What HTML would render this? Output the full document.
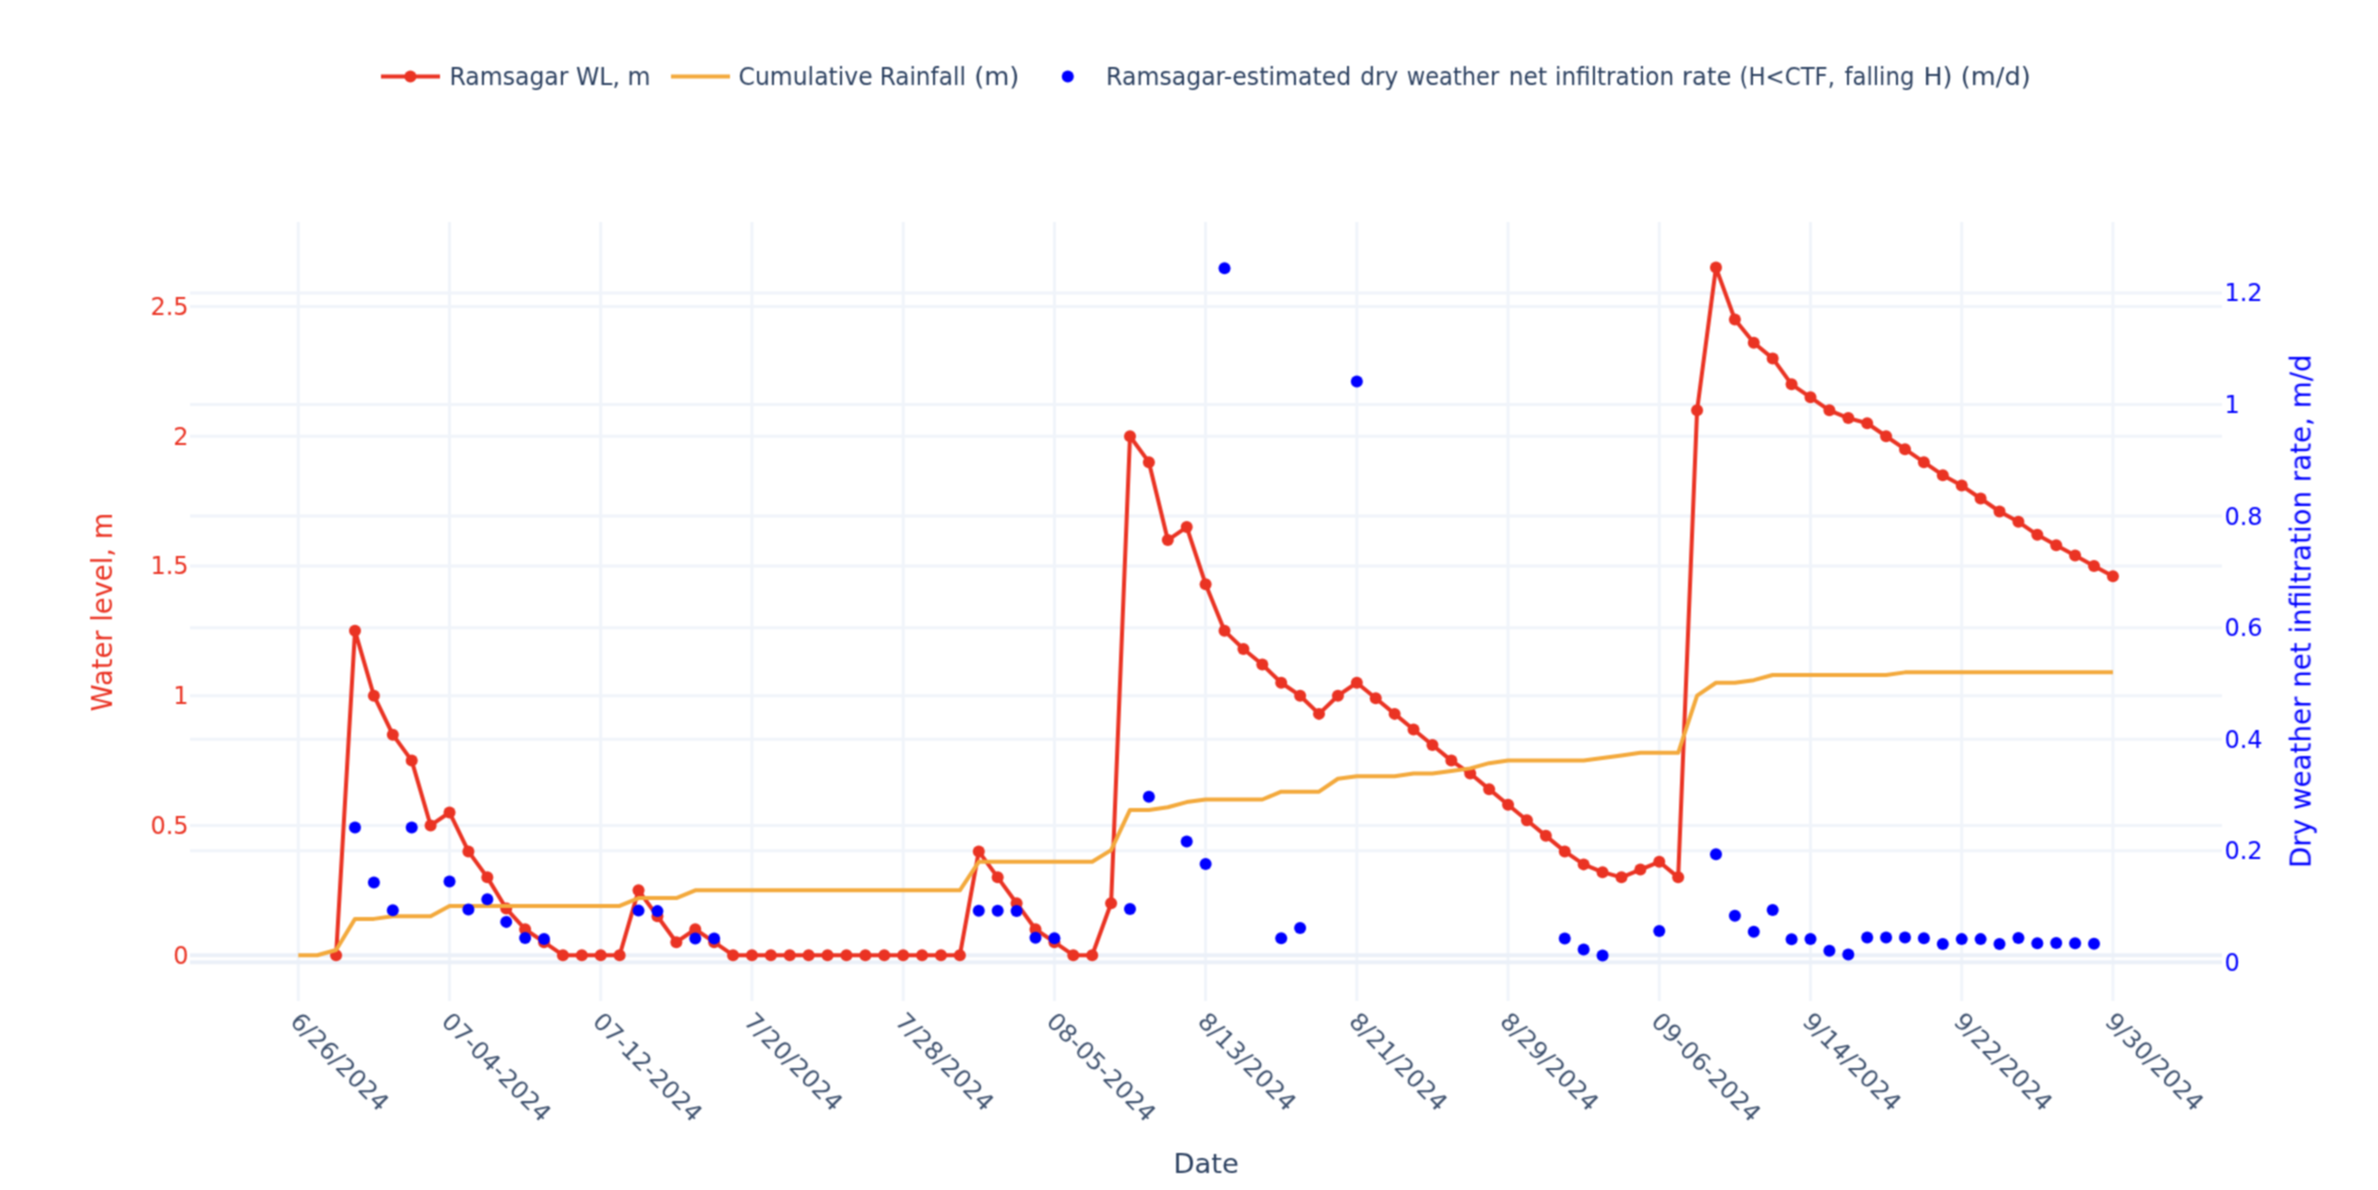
<!DOCTYPE html>
<html lang="en"><head><meta charset="utf-8"><title>Ramsagar water level</title>
<style>html,body{margin:0;padding:0;background:#fff}svg{display:block}text{white-space:pre;stroke:none}</style></head>
<body>
<svg width="2378" height="1190" viewBox="0 0 1189 595" font-family="'DejaVu Sans', 'Liberation Sans', sans-serif">
<defs><filter id="soft" x="0" y="0" width="1189" height="595" filterUnits="userSpaceOnUse" color-interpolation-filters="sRGB"><feConvolveMatrix order="3" kernelMatrix="1 2 1 2 4 2 1 2 1" edgeMode="duplicate" preserveAlpha="true"/></filter></defs>
<g filter="url(#soft)">
<rect x="0" y="0" width="1189" height="595" fill="#ffffff"/>
<g stroke="#F0F4FA" stroke-width="1.5" fill="none"><path d="M149.15,111.0V500.5"/><path d="M224.76,111.0V500.5"/><path d="M300.37,111.0V500.5"/><path d="M375.98,111.0V500.5"/><path d="M451.59,111.0V500.5"/><path d="M527.20,111.0V500.5"/><path d="M602.81,111.0V500.5"/><path d="M678.42,111.0V500.5"/><path d="M754.03,111.0V500.5"/><path d="M829.64,111.0V500.5"/><path d="M905.25,111.0V500.5"/><path d="M980.86,111.0V500.5"/><path d="M1056.47,111.0V500.5"/><path d="M95.0,412.73H1111.0"/><path d="M95.0,347.86H1111.0"/><path d="M95.0,282.99H1111.0"/><path d="M95.0,218.12H1111.0"/><path d="M95.0,153.25H1111.0"/><path d="M95.0,425.34H1111.0"/><path d="M95.0,369.58H1111.0"/><path d="M95.0,313.82H1111.0"/><path d="M95.0,258.06H1111.0"/><path d="M95.0,202.30H1111.0"/><path d="M95.0,146.54H1111.0"/></g>
<g stroke="#EBF0F8" stroke-width="2" fill="none"><path d="M95.0,477.60H1111.0"/><path d="M95.0,481.10H1111.0"/></g>
<path fill="none" stroke="#EA3323" stroke-width="2" stroke-linejoin="round" d="M168.05,477.60L177.50,315.43L186.95,347.86L196.41,367.32L205.86,380.30L215.31,412.73L224.76,406.24L234.21,425.70L243.66,438.68L253.11,454.25L262.56,464.63L272.02,471.11L281.47,477.60L290.92,477.60L300.37,477.60L309.82,477.60L319.27,445.17L328.72,458.14L338.17,471.11L347.63,464.63L357.08,471.11L366.53,477.60L375.98,477.60L385.43,477.60L394.88,477.60L404.33,477.60L413.78,477.60L423.23,477.60L432.69,477.60L442.14,477.60L451.59,477.60L461.04,477.60L470.49,477.60L479.94,477.60L489.39,425.70L498.84,438.68L508.30,451.65L517.75,464.63L527.20,471.11L536.65,477.60L546.10,477.60L555.55,451.65L565.00,218.12L574.45,231.09L583.91,270.02L593.36,263.53L602.81,292.07L612.26,315.43L621.71,324.51L631.16,332.29L640.61,341.37L650.06,347.86L659.51,356.94L668.97,347.86L678.42,341.37L687.87,349.16L697.32,356.94L706.77,364.73L716.22,372.51L725.67,380.30L735.12,386.78L744.58,394.57L754.03,402.35L763.48,410.14L772.93,417.92L782.38,425.70L791.83,432.19L801.28,436.08L810.73,438.68L820.19,434.79L829.64,430.89L839.09,438.68L848.54,205.15L857.99,133.79L867.44,159.74L876.89,171.41L886.34,179.20L895.79,192.17L905.25,198.66L914.70,205.15L924.15,209.04L933.60,211.63L943.05,218.12L952.50,224.61L961.95,231.09L971.40,237.58L980.86,242.77L990.31,249.26L999.76,255.74L1009.21,260.93L1018.66,267.42L1028.11,272.61L1037.56,277.80L1047.01,282.99L1056.47,288.18"/>
<g fill="#EA3323"><circle cx="168.05" cy="477.60" r="3"/><circle cx="177.50" cy="315.43" r="3"/><circle cx="186.95" cy="347.86" r="3"/><circle cx="196.41" cy="367.32" r="3"/><circle cx="205.86" cy="380.30" r="3"/><circle cx="215.31" cy="412.73" r="3"/><circle cx="224.76" cy="406.24" r="3"/><circle cx="234.21" cy="425.70" r="3"/><circle cx="243.66" cy="438.68" r="3"/><circle cx="253.11" cy="454.25" r="3"/><circle cx="262.56" cy="464.63" r="3"/><circle cx="272.02" cy="471.11" r="3"/><circle cx="281.47" cy="477.60" r="3"/><circle cx="290.92" cy="477.60" r="3"/><circle cx="300.37" cy="477.60" r="3"/><circle cx="309.82" cy="477.60" r="3"/><circle cx="319.27" cy="445.17" r="3"/><circle cx="328.72" cy="458.14" r="3"/><circle cx="338.17" cy="471.11" r="3"/><circle cx="347.63" cy="464.63" r="3"/><circle cx="357.08" cy="471.11" r="3"/><circle cx="366.53" cy="477.60" r="3"/><circle cx="375.98" cy="477.60" r="3"/><circle cx="385.43" cy="477.60" r="3"/><circle cx="394.88" cy="477.60" r="3"/><circle cx="404.33" cy="477.60" r="3"/><circle cx="413.78" cy="477.60" r="3"/><circle cx="423.23" cy="477.60" r="3"/><circle cx="432.69" cy="477.60" r="3"/><circle cx="442.14" cy="477.60" r="3"/><circle cx="451.59" cy="477.60" r="3"/><circle cx="461.04" cy="477.60" r="3"/><circle cx="470.49" cy="477.60" r="3"/><circle cx="479.94" cy="477.60" r="3"/><circle cx="489.39" cy="425.70" r="3"/><circle cx="498.84" cy="438.68" r="3"/><circle cx="508.30" cy="451.65" r="3"/><circle cx="517.75" cy="464.63" r="3"/><circle cx="527.20" cy="471.11" r="3"/><circle cx="536.65" cy="477.60" r="3"/><circle cx="546.10" cy="477.60" r="3"/><circle cx="555.55" cy="451.65" r="3"/><circle cx="565.00" cy="218.12" r="3"/><circle cx="574.45" cy="231.09" r="3"/><circle cx="583.91" cy="270.02" r="3"/><circle cx="593.36" cy="263.53" r="3"/><circle cx="602.81" cy="292.07" r="3"/><circle cx="612.26" cy="315.43" r="3"/><circle cx="621.71" cy="324.51" r="3"/><circle cx="631.16" cy="332.29" r="3"/><circle cx="640.61" cy="341.37" r="3"/><circle cx="650.06" cy="347.86" r="3"/><circle cx="659.51" cy="356.94" r="3"/><circle cx="668.97" cy="347.86" r="3"/><circle cx="678.42" cy="341.37" r="3"/><circle cx="687.87" cy="349.16" r="3"/><circle cx="697.32" cy="356.94" r="3"/><circle cx="706.77" cy="364.73" r="3"/><circle cx="716.22" cy="372.51" r="3"/><circle cx="725.67" cy="380.30" r="3"/><circle cx="735.12" cy="386.78" r="3"/><circle cx="744.58" cy="394.57" r="3"/><circle cx="754.03" cy="402.35" r="3"/><circle cx="763.48" cy="410.14" r="3"/><circle cx="772.93" cy="417.92" r="3"/><circle cx="782.38" cy="425.70" r="3"/><circle cx="791.83" cy="432.19" r="3"/><circle cx="801.28" cy="436.08" r="3"/><circle cx="810.73" cy="438.68" r="3"/><circle cx="820.19" cy="434.79" r="3"/><circle cx="829.64" cy="430.89" r="3"/><circle cx="839.09" cy="438.68" r="3"/><circle cx="848.54" cy="205.15" r="3"/><circle cx="857.99" cy="133.79" r="3"/><circle cx="867.44" cy="159.74" r="3"/><circle cx="876.89" cy="171.41" r="3"/><circle cx="886.34" cy="179.20" r="3"/><circle cx="895.79" cy="192.17" r="3"/><circle cx="905.25" cy="198.66" r="3"/><circle cx="914.70" cy="205.15" r="3"/><circle cx="924.15" cy="209.04" r="3"/><circle cx="933.60" cy="211.63" r="3"/><circle cx="943.05" cy="218.12" r="3"/><circle cx="952.50" cy="224.61" r="3"/><circle cx="961.95" cy="231.09" r="3"/><circle cx="971.40" cy="237.58" r="3"/><circle cx="980.86" cy="242.77" r="3"/><circle cx="990.31" cy="249.26" r="3"/><circle cx="999.76" cy="255.74" r="3"/><circle cx="1009.21" cy="260.93" r="3"/><circle cx="1018.66" cy="267.42" r="3"/><circle cx="1028.11" cy="272.61" r="3"/><circle cx="1037.56" cy="277.80" r="3"/><circle cx="1047.01" cy="282.99" r="3"/><circle cx="1056.47" cy="288.18" r="3"/></g>
<path fill="none" stroke="#F3A93C" stroke-width="2" stroke-linejoin="round" d="M149.15,477.60L158.60,477.60L168.05,475.01L177.50,459.44L186.95,459.44L196.41,458.14L205.86,458.14L215.31,458.14L224.76,452.95L234.21,452.95L243.66,452.95L253.11,452.95L262.56,452.95L272.02,452.95L281.47,452.95L290.92,452.95L300.37,452.95L309.82,452.95L319.27,449.06L328.72,449.06L338.17,449.06L347.63,445.17L357.08,445.17L366.53,445.17L375.98,445.17L385.43,445.17L394.88,445.17L404.33,445.17L413.78,445.17L423.23,445.17L432.69,445.17L442.14,445.17L451.59,445.17L461.04,445.17L470.49,445.17L479.94,445.17L489.39,430.89L498.84,430.89L508.30,430.89L517.75,430.89L527.20,430.89L536.65,430.89L546.10,430.89L555.55,425.06L565.00,404.95L574.45,404.95L583.91,403.65L593.36,401.05L602.81,399.76L612.26,399.76L621.71,399.76L631.16,399.76L640.61,395.86L650.06,395.86L659.51,395.86L668.97,389.38L678.42,388.08L687.87,388.08L697.32,388.08L706.77,386.78L716.22,386.78L725.67,385.48L735.12,384.19L744.58,381.59L754.03,380.30L763.48,380.30L772.93,380.30L782.38,380.30L791.83,380.30L801.28,379.00L810.73,377.70L820.19,376.40L829.64,376.40L839.09,376.40L848.54,347.86L857.99,341.37L867.44,341.37L876.89,340.08L886.34,337.48L895.79,337.48L905.25,337.48L914.70,337.48L924.15,337.48L933.60,337.48L943.05,337.48L952.50,336.18L961.95,336.18L971.40,336.18L980.86,336.18L990.31,336.18L999.76,336.18L1009.21,336.18L1018.66,336.18L1028.11,336.18L1037.56,336.18L1047.01,336.18L1056.47,336.18"/>
<g fill="#0000FF"><circle cx="177.50" cy="413.71" r="3"/><circle cx="186.95" cy="441.23" r="3"/><circle cx="196.41" cy="455.17" r="3"/><circle cx="205.86" cy="413.71" r="3"/><circle cx="224.76" cy="440.79" r="3"/><circle cx="234.21" cy="454.73" r="3"/><circle cx="243.66" cy="449.68" r="3"/><circle cx="253.11" cy="460.94" r="3"/><circle cx="262.56" cy="469.00" r="3"/><circle cx="272.02" cy="469.50" r="3"/><circle cx="319.27" cy="455.31" r="3"/><circle cx="328.72" cy="455.56" r="3"/><circle cx="347.63" cy="469.25" r="3"/><circle cx="357.08" cy="469.25" r="3"/><circle cx="489.39" cy="455.37" r="3"/><circle cx="498.84" cy="455.37" r="3"/><circle cx="508.30" cy="455.45" r="3"/><circle cx="517.75" cy="468.83" r="3"/><circle cx="527.20" cy="469.17" r="3"/><circle cx="565.00" cy="454.45" r="3"/><circle cx="574.45" cy="398.35" r="3"/><circle cx="593.36" cy="420.80" r="3"/><circle cx="602.81" cy="432.00" r="3"/><circle cx="612.26" cy="134.16" r="3"/><circle cx="640.61" cy="469.17" r="3"/><circle cx="650.06" cy="463.95" r="3"/><circle cx="678.42" cy="190.76" r="3"/><circle cx="782.38" cy="469.28" r="3"/><circle cx="791.83" cy="474.74" r="3"/><circle cx="801.28" cy="477.70" r="3"/><circle cx="829.64" cy="465.49" r="3"/><circle cx="857.99" cy="427.15" r="3"/><circle cx="867.44" cy="457.85" r="3"/><circle cx="876.89" cy="465.91" r="3"/><circle cx="886.34" cy="454.98" r="3"/><circle cx="895.79" cy="469.61" r="3"/><circle cx="905.25" cy="469.45" r="3"/><circle cx="914.70" cy="475.33" r="3"/><circle cx="924.15" cy="477.25" r="3"/><circle cx="933.60" cy="468.80" r="3"/><circle cx="943.05" cy="468.80" r="3"/><circle cx="952.50" cy="468.80" r="3"/><circle cx="961.95" cy="469.11" r="3"/><circle cx="971.40" cy="471.96" r="3"/><circle cx="980.86" cy="469.56" r="3"/><circle cx="990.31" cy="469.56" r="3"/><circle cx="999.76" cy="471.96" r="3"/><circle cx="1009.21" cy="469.00" r="3"/><circle cx="1018.66" cy="471.65" r="3"/><circle cx="1028.11" cy="471.45" r="3"/><circle cx="1037.56" cy="471.65" r="3"/><circle cx="1047.01" cy="471.82" r="3"/></g>
<path d="M190.5,38.25H220" stroke="#EA3323" stroke-width="2" fill="none"/><circle cx="205.2" cy="38.25" r="3" fill="#EA3323"/>
<path d="M335.5,38.25H365" stroke="#F3A93C" stroke-width="2" fill="none"/>
<circle cx="533.9" cy="38.25" r="3" fill="#0000FF"/>
<g font-size="12" fill="#2a3f5f" stroke="#2a3f5f">
<text x="224.7" y="42.3" textLength="100.5" lengthAdjust="spacingAndGlyphs">Ramsagar WL, m</text>
<text y="42.3"><tspan x="369.28" textLength="67.05" lengthAdjust="spacingAndGlyphs">Cumulative</tspan> <tspan x="439.82" textLength="43.10" lengthAdjust="spacingAndGlyphs">Rainfall</tspan> <tspan x="487.10" textLength="22.60" lengthAdjust="spacingAndGlyphs">(m)</tspan></text>
<text y="42.3"><tspan x="553.02" textLength="122.60" lengthAdjust="spacingAndGlyphs">Ramsagar-estimated</tspan> <tspan x="680.14" textLength="19.00" lengthAdjust="spacingAndGlyphs">dry</tspan> <tspan x="703.40" textLength="46.20" lengthAdjust="spacingAndGlyphs">weather</tspan> <tspan x="754.41" textLength="19.15" lengthAdjust="spacingAndGlyphs">net</tspan> <tspan x="777.52" textLength="59.50" lengthAdjust="spacingAndGlyphs">infiltration</tspan> <tspan x="841.06" textLength="24.60" lengthAdjust="spacingAndGlyphs">rate</tspan> <tspan x="869.75" textLength="47.75" lengthAdjust="spacingAndGlyphs">(H&lt;CTF,</tspan> <tspan x="922.20" textLength="35.00" lengthAdjust="spacingAndGlyphs">falling</tspan> <tspan x="961.72" textLength="14.50" lengthAdjust="spacingAndGlyphs">H)</tspan> <tspan x="980.40" textLength="34.95" lengthAdjust="spacingAndGlyphs">(m/d)</tspan></text>
</g>
<g font-size="12" fill="#EA3323" stroke="#EA3323" text-anchor="end">
<text x="94.3" y="481.80">0</text>
<text x="94.3" y="416.93">0.5</text>
<text x="94.3" y="352.06">1</text>
<text x="94.3" y="287.19">1.5</text>
<text x="94.3" y="222.32">2</text>
<text x="94.3" y="157.45">2.5</text>
</g>
<g font-size="12" fill="#0000FF" stroke="#0000FF" text-anchor="start">
<text x="1112.2" y="485.30">0</text>
<text x="1112.2" y="429.54">0.2</text>
<text x="1112.2" y="373.78">0.4</text>
<text x="1112.2" y="318.02">0.6</text>
<text x="1112.2" y="262.26">0.8</text>
<text x="1112.2" y="206.50">1</text>
<text x="1112.2" y="150.74">1.2</text>
</g>
<g font-size="12" fill="#2a3f5f" stroke="#2a3f5f">
<text transform="translate(149.15,509.0) rotate(45)" x="-1.6" y="4.9" fill-opacity="0.9" textLength="63.53" lengthAdjust="spacingAndGlyphs">6/26/2024</text>
<text transform="translate(224.76,509.0) rotate(45)" x="-1.6" y="4.9" fill-opacity="0.9" textLength="71.15" lengthAdjust="spacingAndGlyphs">07-04-2024</text>
<text transform="translate(300.37,509.0) rotate(45)" x="-1.6" y="4.9" fill-opacity="0.9" textLength="71.15" lengthAdjust="spacingAndGlyphs">07-12-2024</text>
<text transform="translate(375.98,509.0) rotate(45)" x="-1.6" y="4.9" fill-opacity="0.9" textLength="63.53" lengthAdjust="spacingAndGlyphs">7/20/2024</text>
<text transform="translate(451.59,509.0) rotate(45)" x="-1.6" y="4.9" fill-opacity="0.9" textLength="63.53" lengthAdjust="spacingAndGlyphs">7/28/2024</text>
<text transform="translate(527.20,509.0) rotate(45)" x="-1.6" y="4.9" fill-opacity="0.9" textLength="71.15" lengthAdjust="spacingAndGlyphs">08-05-2024</text>
<text transform="translate(602.81,509.0) rotate(45)" x="-1.6" y="4.9" fill-opacity="0.9" textLength="63.53" lengthAdjust="spacingAndGlyphs">8/13/2024</text>
<text transform="translate(678.42,509.0) rotate(45)" x="-1.6" y="4.9" fill-opacity="0.9" textLength="63.53" lengthAdjust="spacingAndGlyphs">8/21/2024</text>
<text transform="translate(754.03,509.0) rotate(45)" x="-1.6" y="4.9" fill-opacity="0.9" textLength="63.53" lengthAdjust="spacingAndGlyphs">8/29/2024</text>
<text transform="translate(829.64,509.0) rotate(45)" x="-1.6" y="4.9" fill-opacity="0.9" textLength="71.15" lengthAdjust="spacingAndGlyphs">09-06-2024</text>
<text transform="translate(905.25,509.0) rotate(45)" x="-1.6" y="4.9" fill-opacity="0.9" textLength="63.53" lengthAdjust="spacingAndGlyphs">9/14/2024</text>
<text transform="translate(980.86,509.0) rotate(45)" x="-1.6" y="4.9" fill-opacity="0.9" textLength="63.53" lengthAdjust="spacingAndGlyphs">9/22/2024</text>
<text transform="translate(1056.47,509.0) rotate(45)" x="-1.6" y="4.9" fill-opacity="0.9" textLength="63.53" lengthAdjust="spacingAndGlyphs">9/30/2024</text>
</g>
<text font-size="13.7" fill="#2a3f5f" stroke="#2a3f5f" text-anchor="middle" x="603.1" y="586.7">Date</text>
<text font-size="14" fill="#EA3323" stroke="#EA3323" text-anchor="middle" transform="rotate(-90,55.9,306)" x="55.9" y="306" textLength="99.4" lengthAdjust="spacingAndGlyphs">Water level, m</text>
<text font-size="14" fill="#0000FF" stroke="#0000FF" text-anchor="middle" transform="rotate(-90,1155.4,305.6)" x="1155.4" y="305.6" textLength="256.8" lengthAdjust="spacingAndGlyphs">Dry weather net infiltration rate, m/d</text>
</g>
</svg>
</body></html>
